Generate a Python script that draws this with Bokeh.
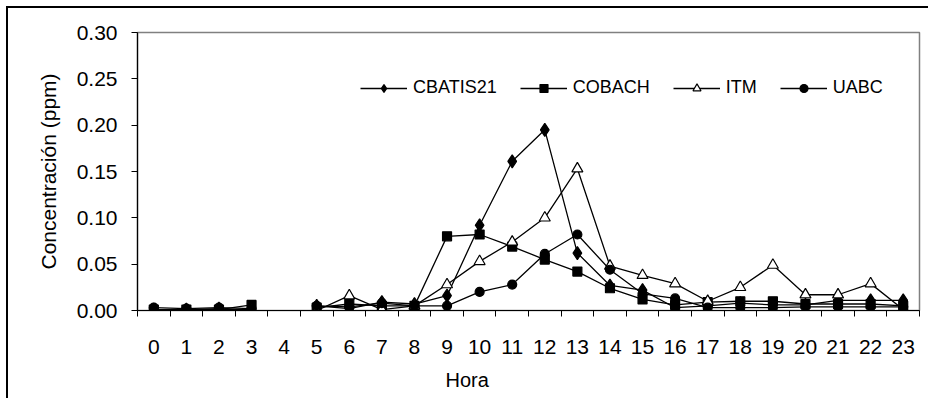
from bokeh.plotting import figure
from bokeh.models import (FixedTicker, NumeralTickFormatter, Legend, LegendItem, Range1d, Title)
from bokeh.embed import file_html
from bokeh.resources import INLINE
import math

nan = float("nan")

hours = list(range(24))
hour_labels = [str(h) for h in hours]

cbatis21 = [0.001, 0.001, 0.002, 0.000, nan, 0.005, 0.002, 0.009, 0.007, 0.016,
            0.092, 0.161, 0.195, 0.062, 0.027, 0.022, 0.003, 0.005, 0.008, 0.006,
            0.006, 0.011, 0.011, 0.011]
cobach = [0.001, 0.001, 0.001, 0.006, nan, 0.003, 0.007, 0.005, 0.005, 0.080,
          0.082, 0.069, 0.055, 0.042, 0.024, 0.012, 0.006, 0.009, 0.010, 0.010,
          0.007, 0.007, 0.007, 0.005]
itm = [0.000, 0.001, 0.001, 0.001, nan, 0.000, 0.016, 0.001, 0.005, 0.028,
       0.053, 0.074, 0.100, 0.153, 0.048, 0.038, 0.029, 0.010, 0.025, 0.049,
       0.017, 0.017, 0.029, 0.001]
uabc = [0.003, 0.002, 0.003, 0.002, nan, 0.005, 0.004, 0.008, 0.005, 0.005,
        0.020, 0.028, 0.061, 0.082, 0.044, 0.018, 0.013, 0.003, 0.003, 0.003,
        0.004, 0.004, 0.004, 0.004]

y_ticks = [0.0, 0.05, 0.10, 0.15, 0.20, 0.25, 0.30]

FONT = "Liberation Sans"

p = figure(width=922, height=392, output_backend="svg", toolbar_location=None,
           x_range=Range1d(-0.5, 23.5), y_range=Range1d(0, 0.30),
           min_border_left=129, min_border_top=24, min_border_right=11,
           min_border_bottom=90)
p.styles = {"margin-left": "6px", "margin-top": "6px",
            "border-left": "2px solid black", "border-top": "2px solid black"}

p.grid.visible = False
p.outline_line_color = "#808080"
p.outline_line_width = 1.5
p.background_fill_color = "white"
p.border_fill_color = "white"

# x axis
xa = p.xaxis[0]
minor = [h - 0.5 for h in hours] + [hours[-1] + 0.5]
xa.ticker = FixedTicker(ticks=hours, minor_ticks=minor)
xa.major_label_overrides = {h: lab for h, lab in zip(hours, hour_labels)}
xa.major_tick_out = 0
xa.major_tick_in = 0
xa.minor_tick_out = 6
xa.minor_tick_in = 0
xa.minor_tick_line_color = "black"
xa.axis_line_color = "black"
xa.axis_line_width = 1.2
xa.major_label_text_font = FONT
xa.major_label_text_font_size = "21px"
xa.major_label_text_color = "black"
xa.major_label_standoff = 23

# x axis title (placed left of centre, as in the original)
p.add_layout(Title(text="Hora", align="left", offset=308, standoff=20,
                   text_font=FONT, text_font_size="20px",
                   text_font_style="normal", text_color="black"), "below")

# y axis
ya = p.yaxis[0]
ya.ticker = FixedTicker(ticks=y_ticks, minor_ticks=[])
ya.formatter = NumeralTickFormatter(format="0.00")
ya.major_tick_out = 6
ya.major_tick_in = 0
ya.major_tick_line_color = "black"
ya.axis_line_color = "black"
ya.axis_line_width = 1.2
ya.major_label_text_font = FONT
ya.major_label_text_font_size = "21px"
ya.major_label_text_color = "black"
ya.major_label_standoff = 14
ya.axis_label = "Concentración (ppm)"
ya.axis_label_text_font = FONT
ya.axis_label_text_font_size = "21px"
ya.axis_label_text_font_style = "normal"
ya.axis_label_text_color = "black"
ya.axis_label_standoff = 14

series = [
    ("CBATIS21", cbatis21, "diamond", 13, "black"),
    ("COBACH", cobach, "square", 9, "black"),
    ("ITM", itm, "triangle", 11, "white"),
    ("UABC", uabc, "circle", 9, "black"),
]

items = []
for name, vals, marker, size, fill in series:
    ln = p.line(hours, vals, line_color="black", line_width=1.3)
    xs = [h for h, v in zip(hours, vals) if not math.isnan(v)]
    ys = [v for v in vals if not math.isnan(v)]
    mk = p.scatter(xs, ys, marker=marker, size=size, fill_color=fill,
                   line_color="black", line_width=1.2)
    items.append(LegendItem(label=name, renderers=[ln, mk]))

legend = Legend(items=items, orientation="horizontal", location=(223, 212),
                glyph_width=47, glyph_height=20, label_height=20,
                label_standoff=6, spacing=23, padding=0, margin=0,
                border_line_color=None, background_fill_alpha=0,
                label_text_font=FONT, label_text_font_size="18px",
                label_text_color="black")
p.add_layout(legend, "center")

open("out.html", "w").write(file_html(p, INLINE))
